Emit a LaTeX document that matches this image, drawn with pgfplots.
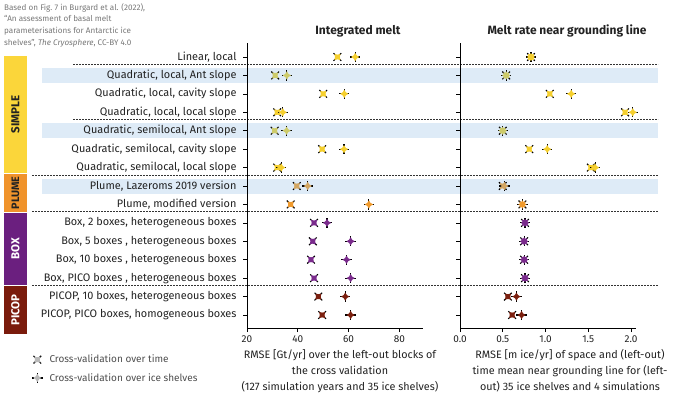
\documentclass[border=0pt]{standalone}
\usepackage{fontspec}
\setmainfont{Fira Sans}
\usepackage{pgfplots}
\pgfplotsset{compat=1.18}
\definecolor{cSimple}{HTML}{F5CF2E}
\definecolor{cSimpleH}{HTML}{CDCB6A}
\definecolor{cPlume}{HTML}{F09A2C}
\definecolor{cPlumeH}{HTML}{D3A662}
\definecolor{cBox}{HTML}{7A2B8C}
\definecolor{cPicop}{HTML}{7B200F}
\definecolor{bSimple}{HTML}{FBD63A}
\definecolor{bPlume}{HTML}{F0932B}
\definecolor{bBox}{HTML}{6B1F7F}
\definecolor{bPicop}{HTML}{7A1B0C}
\definecolor{band}{HTML}{DEEBF7}
\definecolor{capgray}{HTML}{777777}
\definecolor{txt}{HTML}{222222}
\pgfdeclareplotmark{xstar}{%
 \pgfsetlinewidth{1.1pt}%
 \pgfpathmoveto{\pgfqpoint{0.45\pgfplotmarksize}{0.45\pgfplotmarksize}}\pgfpathlineto{\pgfqpoint{0.8\pgfplotmarksize}{0.8\pgfplotmarksize}}%
 \pgfpathmoveto{\pgfqpoint{-0.45\pgfplotmarksize}{0.45\pgfplotmarksize}}\pgfpathlineto{\pgfqpoint{-0.8\pgfplotmarksize}{0.8\pgfplotmarksize}}%
 \pgfpathmoveto{\pgfqpoint{0.45\pgfplotmarksize}{-0.45\pgfplotmarksize}}\pgfpathlineto{\pgfqpoint{0.8\pgfplotmarksize}{-0.8\pgfplotmarksize}}%
 \pgfpathmoveto{\pgfqpoint{-0.45\pgfplotmarksize}{-0.45\pgfplotmarksize}}\pgfpathlineto{\pgfqpoint{-0.8\pgfplotmarksize}{-0.8\pgfplotmarksize}}%
 \pgfusepathqstroke
 \pgfpathmoveto{\pgfqpoint{0.62\pgfplotmarksize}{0.62\pgfplotmarksize}}%
 \pgfpathlineto{\pgfqpoint{0.5\pgfplotmarksize}{0pt}}%
 \pgfpathlineto{\pgfqpoint{0.62\pgfplotmarksize}{-0.62\pgfplotmarksize}}%
 \pgfpathlineto{\pgfqpoint{0pt}{-0.5\pgfplotmarksize}}%
 \pgfpathlineto{\pgfqpoint{-0.62\pgfplotmarksize}{-0.62\pgfplotmarksize}}%
 \pgfpathlineto{\pgfqpoint{-0.5\pgfplotmarksize}{0pt}}%
 \pgfpathlineto{\pgfqpoint{-0.62\pgfplotmarksize}{0.62\pgfplotmarksize}}%
 \pgfpathlineto{\pgfqpoint{0pt}{0.5\pgfplotmarksize}}%
 \pgfpathclose
 \pgfusepathqfill
}
\pgfdeclareplotmark{pstar}{%
 \pgfsetlinewidth{1.1pt}%
 \pgfpathmoveto{\pgfqpoint{0.55\pgfplotmarksize}{0pt}}\pgfpathlineto{\pgfqpoint{\pgfplotmarksize}{0pt}}%
 \pgfpathmoveto{\pgfqpoint{-0.55\pgfplotmarksize}{0pt}}\pgfpathlineto{\pgfqpoint{-\pgfplotmarksize}{0pt}}%
 \pgfpathmoveto{\pgfqpoint{0pt}{0.55\pgfplotmarksize}}\pgfpathlineto{\pgfqpoint{0pt}{\pgfplotmarksize}}%
 \pgfpathmoveto{\pgfqpoint{0pt}{-0.55\pgfplotmarksize}}\pgfpathlineto{\pgfqpoint{0pt}{-\pgfplotmarksize}}%
 \pgfusepathqstroke
 \pgfpathmoveto{\pgfqpoint{0.8\pgfplotmarksize}{0pt}}%
 \pgfpathlineto{\pgfqpoint{0.3\pgfplotmarksize}{-0.3\pgfplotmarksize}}%
 \pgfpathlineto{\pgfqpoint{0pt}{-0.8\pgfplotmarksize}}%
 \pgfpathlineto{\pgfqpoint{-0.3\pgfplotmarksize}{-0.3\pgfplotmarksize}}%
 \pgfpathlineto{\pgfqpoint{-0.8\pgfplotmarksize}{0pt}}%
 \pgfpathlineto{\pgfqpoint{-0.3\pgfplotmarksize}{0.3\pgfplotmarksize}}%
 \pgfpathlineto{\pgfqpoint{0pt}{0.8\pgfplotmarksize}}%
 \pgfpathlineto{\pgfqpoint{0.3\pgfplotmarksize}{0.3\pgfplotmarksize}}%
 \pgfpathclose
 \pgfusepathqfill
}
\pgfplotsset{
 panel/.style={scale only axis, width=176pt, height=285pt, anchor=south west,
  ymin=-14.705, ymax=0.76, axis x line*=bottom, axis y line*=left,
  ytick={-14,...,0}, tick align=outside, major tick length=4pt,
  tick style={black, line width=0.6pt}, axis line style={black, line width=0.8pt},
  ticklabel style={font=\fontsize{10}{12}\selectfont, text=txt},
  /pgf/number format/assume math mode=true, clip=false},
 X/.style={only marks, mark=xstar, mark size=4.8pt, mark options={draw=black, fill=#1}},
 P/.style={only marks, mark=pstar, mark size=5.2pt, mark options={draw=black, fill=#1}},
}
\begin{document}
\begin{tikzpicture}
\useasboundingbox (0pt,0pt) rectangle (680pt,397pt);
% highlight bands
\fill[band] (42pt,314.1pt) rectangle (658pt,329.1pt);
\fill[band] (42pt,258.8pt) rectangle (658pt,273.8pt);
\fill[band] (42pt,203.5pt) rectangle (658pt,218.5pt);
% group bars
\fill[bSimple] (4pt,224pt) rectangle (27pt,341pt);
\fill[bPlume] (4pt,185pt) rectangle (27pt,223pt);
\fill[bBox] (4pt,112pt) rectangle (27pt,184pt);
\fill[bPicop] (4pt,63pt) rectangle (27pt,111pt);
\node[rotate=90, font=\bfseries\fontsize{11.5}{11}\selectfont, text=txt] at (15.5pt,282.5pt) {SIMPLE};
\node[rotate=90, font=\bfseries\fontsize{10.8}{11}\selectfont, text=txt] at (15.5pt,204pt) {PLUME};
\node[rotate=90, font=\bfseries\fontsize{11.5}{11}\selectfont, text=white] at (15.5pt,148pt) {BOX};
\node[rotate=90, font=\bfseries\fontsize{11.5}{11}\selectfont, text=white] at (15.5pt,87pt) {PICOP};
% separators
\begin{scope}[dash pattern=on 1.8pt off 1.2pt, line width=0.7pt, black!80]
\draw (73pt,332.6pt) -- (658pt,332.6pt);
\draw (73pt,277.3pt) -- (658pt,277.3pt);
\draw (32pt,222.0pt) -- (658pt,222.0pt);
\draw (32pt,185.2pt) -- (658pt,185.2pt);
\draw (32pt,111.5pt) -- (658pt,111.5pt);
\end{scope}
% caption
\node[anchor=north west, align=left, text=capgray, font=\fontsize{8.1}{11.7}\selectfont, inner sep=0pt] at (4pt,394pt) {Based on Fig.~7 in Burgard et al. (2022),\\“An assessment of basal melt\\parameterisations for Antarctic ice\\shelves”, \textit{The Cryosphere}, CC-BY 4.0};
% titles
\node[font=\bfseries\fontsize{12}{14}\selectfont, text=txt] at (358pt,366pt) {Integrated melt};
\node[font=\bfseries\fontsize{12}{14}\selectfont, text=txt] at (567pt,366pt) {Melt rate near grounding line};
% x labels
\node[anchor=north, align=center, font=\fontsize{10.8}{16}\selectfont, text=txt, inner sep=0pt] at (340pt,48pt) {RMSE [Gt/yr] over the left-out blocks of\\the cross validation\\(127 simulation years and 35 ice shelves)};
\node[anchor=north, align=center, font=\fontsize{10.8}{16}\selectfont, text=txt, inner sep=0pt] at (570pt,48pt) {RMSE [m ice/yr] of space and (left-out)\\time mean near grounding line for (left-\\out) 35 ice shelves and 4 simulations};

\begin{axis}[panel, at={(247pt,69pt)}, xmin=20, xmax=89.3, xtick={20,40,60,80},
 yticklabel style={font=\fontsize{10.9}{12}\selectfont, xshift=-3pt},
 yticklabels={{PICOP, PICO boxes, homogeneous boxes},{PICOP, 10 boxes, heterogeneous boxes},{Box, PICO boxes , heterogeneous boxes},{Box, 10 boxes , heterogeneous boxes},{Box, 5 boxes , heterogeneous boxes},{Box, 2 boxes, heterogeneous boxes},{Plume, modified version},{Plume, Lazeroms 2019 version},{Quadratic, semilocal, local slope},{Quadratic, semilocal, cavity slope},{Quadratic, semilocal, Ant slope},{Quadratic, local, local slope},{Quadratic, local, cavity slope},{Quadratic, local, Ant slope},{Linear, local}},
 legend style={at={(axis description cs:-1.239,-0.08)}, anchor=north west, draw=none, fill=none, font=\fontsize{10}{12}\selectfont, text=txt!80, row sep=5pt, /tikz/every odd column/.append style={column sep=5pt}},
 legend cell align=left]
\addlegendimage{X=gray!55}
\addlegendentry{Cross-validation over time}
\addlegendimage{P=gray!55}
\addlegendentry{Cross-validation over ice shelves}
\addplot[X=cSimple] coordinates {(55.6,0) (50.0,-2) (31.9,-3) (49.6,-5) (31.9,-6)};
\addplot[X=cSimpleH] coordinates {(31.1,-1) (30.9,-4)};
\addplot[X=cPlumeH] coordinates {(39.6,-7)};
\addplot[X=cPlume] coordinates {(37.2,-8)};
\addplot[X=cBox] coordinates {(46.4,-9) (45.9,-10) (45.2,-11) (46.4,-12)};
\addplot[X=cPicop] coordinates {(48.1,-13) (49.6,-14)};
\addplot[P=cSimple] coordinates {(62.6,0) (58.3,-2) (34.1,-3) (58.2,-5) (33.5,-6)};
\addplot[P=cSimpleH] coordinates {(35.7,-1) (35.6,-4)};
\addplot[P=cPlumeH] coordinates {(43.9,-7)};
\addplot[P=cPlume] coordinates {(68.0,-8)};
\addplot[P=cBox] coordinates {(51.5,-9) (60.8,-10) (59.2,-11) (60.8,-12)};
\addplot[P=cPicop] coordinates {(58.7,-13) (60.8,-14)};
\end{axis}

\begin{axis}[panel, at={(460pt,69pt)}, xmin=0, xmax=2.058, xtick={0,0.5,1,1.5,2},
 xticklabel style={/pgf/number format/.cd, fixed, fixed zerofill, precision=1},
 yticklabels={}]
\addplot[X=cSimple] coordinates {(0.83,0) (1.05,-2) (1.93,-3) (0.81,-5) (1.53,-6)};
\addplot[X=cSimpleH] coordinates {(0.54,-1) (0.50,-4)};
\addplot[X=cPlumeH] coordinates {(0.50,-7)};
\addplot[X=cPlume] coordinates {(0.73,-8)};
\addplot[X=cBox] coordinates {(0.76,-9) (0.75,-10) (0.75,-11) (0.76,-12)};
\addplot[X=cPicop] coordinates {(0.56,-13) (0.61,-14)};
\addplot[P=cSimple] coordinates {(0.83,0) (1.30,-2) (2.02,-3) (1.02,-5) (1.58,-6)};
\addplot[P=cSimpleH] coordinates {(0.54,-1) (0.50,-4)};
\addplot[P=cPlumeH] coordinates {(0.52,-7)};
\addplot[P=cPlume] coordinates {(0.73,-8)};
\addplot[P=cBox] coordinates {(0.76,-9) (0.75,-10) (0.75,-11) (0.76,-12)};
\addplot[P=cPicop] coordinates {(0.66,-13) (0.72,-14)};
\end{axis}
\end{tikzpicture}
\end{document}
